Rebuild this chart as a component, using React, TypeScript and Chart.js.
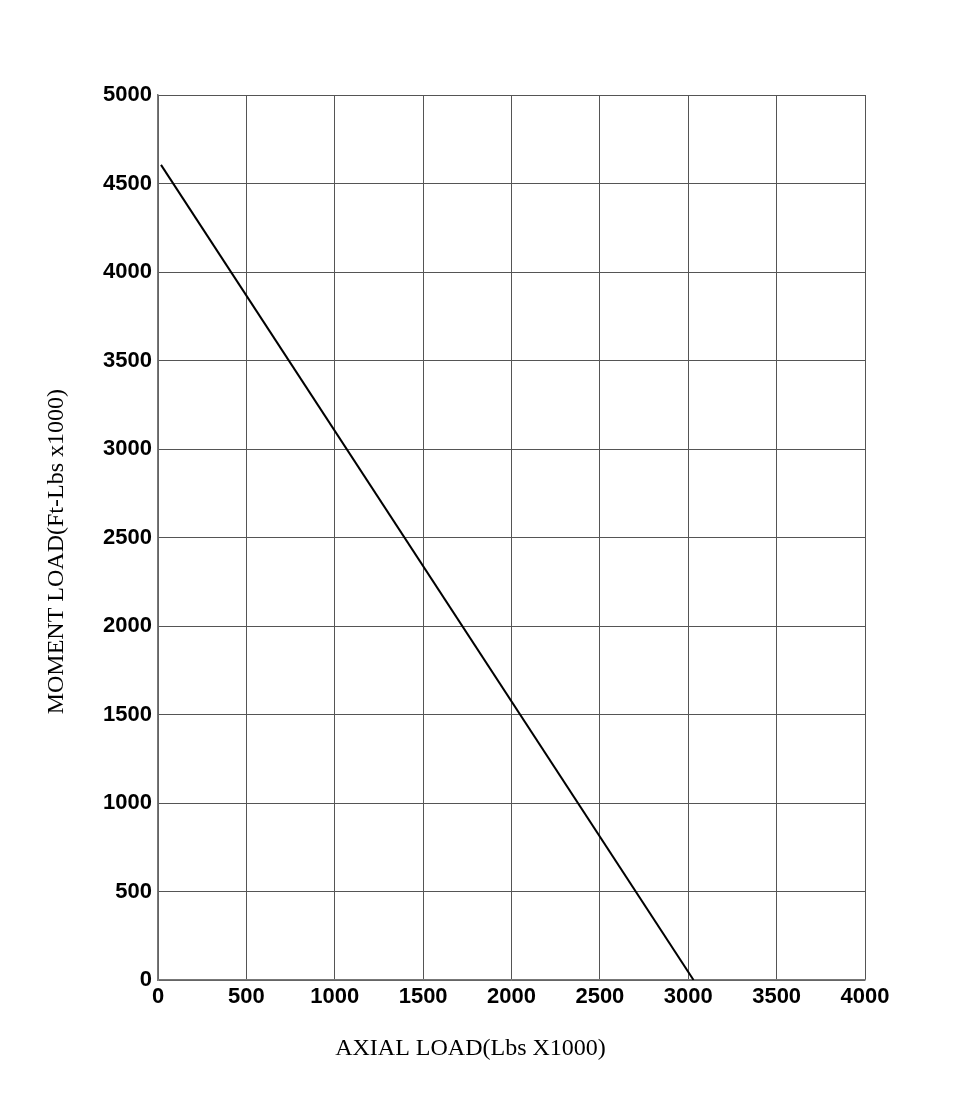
import React, { useEffect, useRef } from "react";
import { Chart, registerables } from "chart.js";

Chart.register(...registerables);

const axialLoad = [17, 3030];
const momentLoad = [4605, 0];
const xTitle = "AXIAL LOAD(Lbs X1000)";
const yTitle = "MOMENT LOAD(Ft-Lbs x1000)";
const xMin = 0, xMax = 4000, xStep = 500;
const yMin = 0, yMax = 5000, yStep = 500;

const tickFont = { family: '"Liberation Sans Narrow", "Arial Narrow", "Liberation Sans", Arial, sans-serif', size: 22, weight: "bold" as const };
const titleFontCss = '24px "Liberation Serif", "Times New Roman", serif';

const axisTitlePlugin = {
  id: "axisTitles",
  afterDraw(chart: any) {
    const { ctx, chartArea } = chart;
    ctx.save();
    ctx.font = titleFontCss;
    ctx.fillStyle = "#000";
    ctx.textAlign = "center";
    ctx.textBaseline = "middle";
    // x-axis title
    const xc = chartArea.left + chartArea.width * 0.442;
    ctx.fillText(xTitle, xc, chartArea.bottom + 69);
    // y-axis title (rotated)
    const yc = chartArea.top + chartArea.height * 0.516;
    ctx.translate(chartArea.left - 101, yc);
    ctx.rotate(-Math.PI / 2);
    ctx.fillText(yTitle, 0, 0);
    ctx.restore();
  },
};

export default function App() {
  const ref = useRef<HTMLCanvasElement | null>(null);
  useEffect(() => {
    if (!ref.current) return;
    const chart = new Chart(ref.current, {
      type: "scatter",
      data: {
        datasets: [
          {
            data: axialLoad.map((x, i) => ({ x, y: momentLoad[i] })),
            showLine: true,
            borderColor: "#000",
            borderWidth: 2,
            pointRadius: 0,
            fill: false,
          },
        ],
      },
      plugins: [axisTitlePlugin],
      options: {
        animation: false,
        responsive: false,
        layout: { padding: { top: 95, right: 108, left: 0, bottom: 0 } },
        plugins: { legend: { display: false }, tooltip: { enabled: false } },
        scales: {
          x: {
            type: "linear",
            min: xMin,
            max: xMax,
            ticks: {
              stepSize: xStep,
              padding: 4,
              color: "#000",
              font: tickFont,
              maxRotation: 0,
              autoSkip: false,
              callback: (v: any) => String(v),
            },
            grid: { color: "#555", lineWidth: 1, drawTicks: false },
            border: { color: "#777", width: 1.5 },
            title: { display: false },
            afterFit: (s: any) => { s.height = 125; },
          },
          y: {
            type: "linear",
            min: yMin,
            max: yMax,
            ticks: {
              stepSize: yStep,
              padding: 6,
              color: "#000",
              font: tickFont,
              autoSkip: false,
              callback: (v: any) => String(v),
            },
            grid: { color: "#555", lineWidth: 1, drawTicks: false },
            border: { color: "#777", width: 1.5 },
            title: { display: false },
            afterFit: (s: any) => { s.width = 158; },
          },
        },
      },
    });
    return () => chart.destroy();
  }, []);
  return (
    <div style={{ position: "fixed", left: 0, top: 0, width: 973, height: 1105, background: "#fff" }}>
      <canvas ref={ref} width={973} height={1105} style={{ width: 973, height: 1105 }} />
    </div>
  );
}
